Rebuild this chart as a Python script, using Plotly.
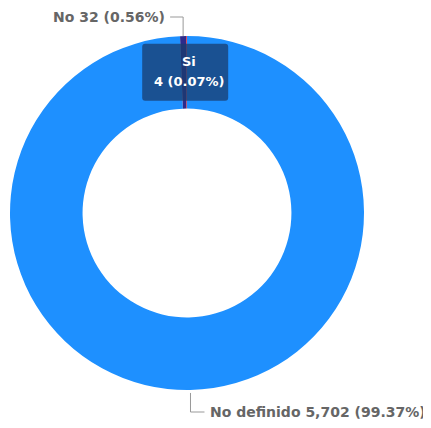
import numpy as np
import plotly.graph_objects as go

# data
labels = ["No definido", "No", "Si"]
values = [5702, 32, 4]
colors = ["#1e90ff", "#2d2a8c", "#d8283a"]

W, H = 431, 428
OFF = 8  # page body margin
margin = dict(l=10 - OFF, r=67 + OFF, t=36 - OFF, b=38 + OFF)
pw = W - margin["l"] - margin["r"]
ph = H - margin["t"] - margin["b"]
cx = margin["l"] + pw / 2
cy = margin["t"] + ph / 2
R = min(pw, ph) / 2
hole = 0.59

total = sum(values)
pcts = [v / total * 100 for v in values]

# mid angle of each slice, clockwise from 12 o'clock
ends = np.cumsum(values) / total * 360
starts = ends - np.array(values) / total * 360
mids = (starts + ends) / 2


def px(x):
    return (x - margin["l"]) / pw


def py(y):
    return 1 - (y - margin["t"]) / ph


def edge(angle, r):
    a = np.radians(angle)
    return cx + r * np.sin(a), cy - r * np.cos(a)


fig = go.Figure()
fig.add_trace(go.Pie(
    labels=labels,
    values=values,
    hole=hole,
    sort=False,
    direction="clockwise",
    rotation=0,
    marker=dict(colors=colors, line=dict(width=0)),
    textinfo="none",
    hoverinfo="label+value+percent",
    showlegend=False,
))

label_font = dict(family="DejaVu Sans", size=14, color="#666666", weight="bold")
annotations = []
shapes = []

# "No" label, top-left with elbow leader
x0, y0 = edge(mids[1], R)
ly = 17 - OFF
shapes.append(dict(type="path", xref="paper", yref="paper",
                   path=f"M {px(x0)},{py(y0)} L {px(x0)},{py(ly)} L {px(x0 - 13)},{py(ly)}",
                   line=dict(color="#999999", width=1)))
annotations.append(dict(x=px(x0 - 16), y=py(ly), xref="paper", yref="paper",
                        xanchor="right", yanchor="middle", showarrow=False,
                        text=f"{labels[1]} {values[1]:,} ({pcts[1]:.2f}%)",
                        font=label_font))

# "No definido" label, bottom-right with elbow leader
x0, y0 = edge(mids[0], R)
ly = 412 - OFF
shapes.append(dict(type="path", xref="paper", yref="paper",
                   path=f"M {px(x0)},{py(y0 + 3)} L {px(x0)},{py(ly)} L {px(x0 + 14)},{py(ly)}",
                   line=dict(color="#999999", width=1)))
annotations.append(dict(x=px(x0 + 18), y=py(ly), xref="paper", yref="paper",
                        xanchor="left", yanchor="middle", showarrow=False,
                        text=f"{labels[0]} {values[0]:,} ({pcts[0]:.2f}%)",
                        font=label_font))

# "Si" label inside the ring, in a rounded box
bx, by = edge(mids[2], R * (1 + hole) / 2)
bx -= 1.5
hw, hh, rc = 43, 28.5, 3
x1, x2, y1, y2 = bx - hw, bx + hw, by - hh, by + hh
box = (f"M {px(x1 + rc)},{py(y1)} L {px(x2 - rc)},{py(y1)} Q {px(x2)},{py(y1)} {px(x2)},{py(y1 + rc)} "
       f"L {px(x2)},{py(y2 - rc)} Q {px(x2)},{py(y2)} {px(x2 - rc)},{py(y2)} "
       f"L {px(x1 + rc)},{py(y2)} Q {px(x1)},{py(y2)} {px(x1)},{py(y2 - rc)} "
       f"L {px(x1)},{py(y1 + rc)} Q {px(x1)},{py(y1)} {px(x1 + rc)},{py(y1)} Z")
shapes.append(dict(type="path", xref="paper", yref="paper", path=box, layer="above",
                   fillcolor="rgba(25,60,110,0.75)", line=dict(width=0)))
box_font = dict(family="DejaVu Sans", size=13, color="white", weight="bold")
for dy, txt in [(-11, labels[2]), (9, f"{values[2]:,} ({pcts[2]:.2f}%)")]:
    annotations.append(dict(x=px(bx + 4), y=py(by + dy), xref="paper", yref="paper",
                            xanchor="center", yanchor="middle", showarrow=False,
                            text=txt, font=box_font))

fig.update_layout(
    width=W, height=H,
    margin=margin,
    paper_bgcolor="white",
    plot_bgcolor="white",
    annotations=annotations,
    shapes=shapes,
)

fig.write_html("out.html")
